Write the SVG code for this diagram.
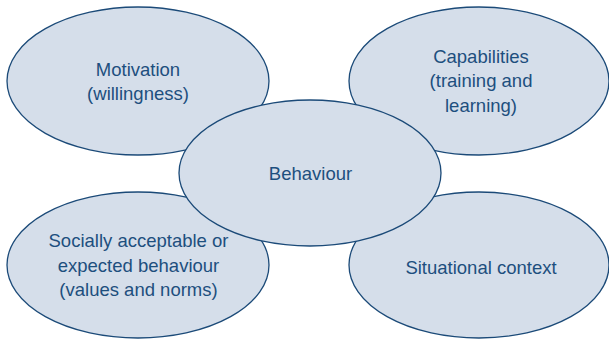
<svg xmlns="http://www.w3.org/2000/svg" width="609" height="339" viewBox="0 0 609 339">
<style>
.n ellipse{fill:#d5deea;stroke:#1b4a78;stroke-width:1.3}
.n text{font-family:"Liberation Sans",Arial,sans-serif;font-size:18.5px;fill:#1d4f7e;text-anchor:middle}
</style>
<rect width="609" height="339" fill="#ffffff"/>
<g id="connectors"></g>
<g id="motivation" class="n">
<ellipse cx="138" cy="81" rx="131" ry="74"/>
<text x="138" y="76">Motivation</text>
<text x="138" y="100">(willingness)</text>
</g>
<g id="capabilities" class="n">
<ellipse cx="479" cy="81" rx="130" ry="74"/>
<text x="481" y="62.5">Capabilities</text>
<text x="481" y="87">(training and</text>
<text x="481" y="111.5">learning)</text>
</g>
<g id="social" class="n">
<ellipse cx="138" cy="265" rx="131" ry="73"/>
<text x="138.5" y="247">Socially acceptable or</text>
<text x="138.5" y="271.5">expected behaviour</text>
<text x="138.5" y="296">(values and norms)</text>
</g>
<g id="situational" class="n">
<ellipse cx="479" cy="265" rx="130" ry="73"/>
<text x="481" y="274">Situational context</text>
</g>
<g id="behaviour" class="n">
<ellipse cx="310" cy="173" rx="131" ry="73"/>
<text x="310.5" y="180">Behaviour</text>
</g>
</svg>
